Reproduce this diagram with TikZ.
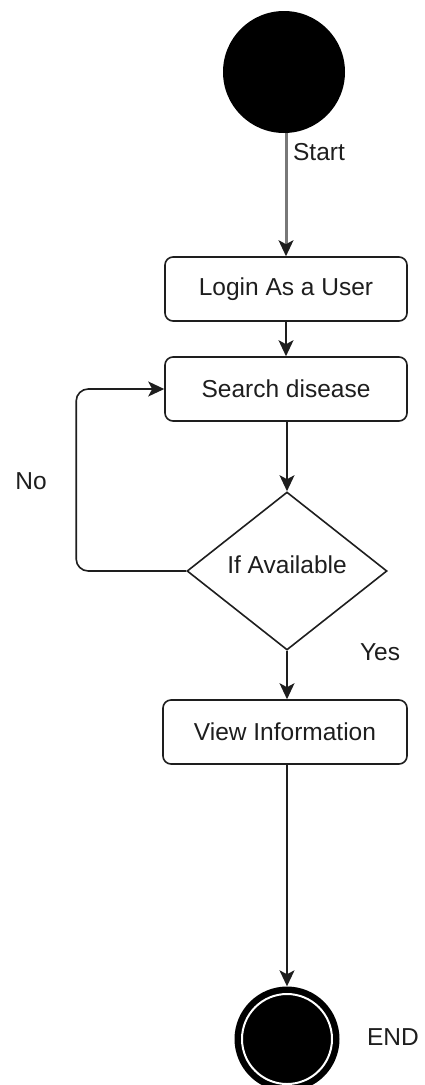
\documentclass[tikz,border=0pt]{standalone}
\usepackage{fontspec}
\setmainfont{Liberation Sans}
\usetikzlibrary{shapes.geometric,arrows.meta}
\definecolor{ink}{HTML}{1E1E1E}
\definecolor{startline}{HTML}{787878}
\begin{document}
\begin{tikzpicture}[x=1pt,y=-1pt,
  every node/.style={font=\fontsize{24.5}{28}\selectfont, text=ink},
  actbox/.style={draw=ink, line width=1.6pt, rounded corners=8pt, fill=white,
    minimum width=242pt, minimum height=64pt, inner sep=0pt},
  decision/.style={draw=ink, line width=1.6pt, diamond, fill=white,
    minimum width=200pt, minimum height=158pt, inner sep=0pt},
  flow/.style={draw=ink, line width=1.6pt, -{Stealth[length=16pt,width=15pt,inset=4pt]}},
  lbl/.style={inner sep=0pt}
]
\clip (0,0) rectangle (425,1085);
\fill[white] (0,0) rectangle (425,1085);

% initial state
\node[circle, fill=black, minimum size=122pt, inner sep=0pt] (start) at (284,72) {};

% activities
\node[actbox] (login)  at (286,289) {Login As a User};
\node[actbox] (search) at (286,389) {Search disease};
\node[decision] (check) at (287,571) {};
\node[lbl] (checktxt) at (287,565) {If Available};
\node[actbox, minimum width=244pt] (view) at (285,732) {View Information};

% final state
\node[circle, fill=black, minimum size=105pt, inner sep=0pt] (end) at (287,1039) {};
\draw[white, line width=2pt] (end.center) circle (45pt);

% transitions (the first one has a grey shaft and a black head)
\draw[startline, line width=3pt] (start.south -| login.north) -- ([yshift=10pt]login.north);
\draw[flow] ([yshift=12pt]login.north) -- (login.north);
\draw[flow] (login) -- (search);
\draw[flow] (search.south -| check.north) -- (check.north);
\draw[flow, rounded corners=12pt] (check.west) -- ++(-110,0) |- (search.west);
\draw[flow] (check.south) -- (check.south |- view.north);
\draw[flow] (view.south -| end.north) -- (end.north);

% guard and state labels
\node[lbl] (lstart) at (319,152) {Start};
\node[lbl] (lno) at (31,481) {No};
\node[lbl] (lyes) at (380,652) {Yes};
\node[lbl] (lend) at (393,1037) {END};
\end{tikzpicture}
\end{document}
